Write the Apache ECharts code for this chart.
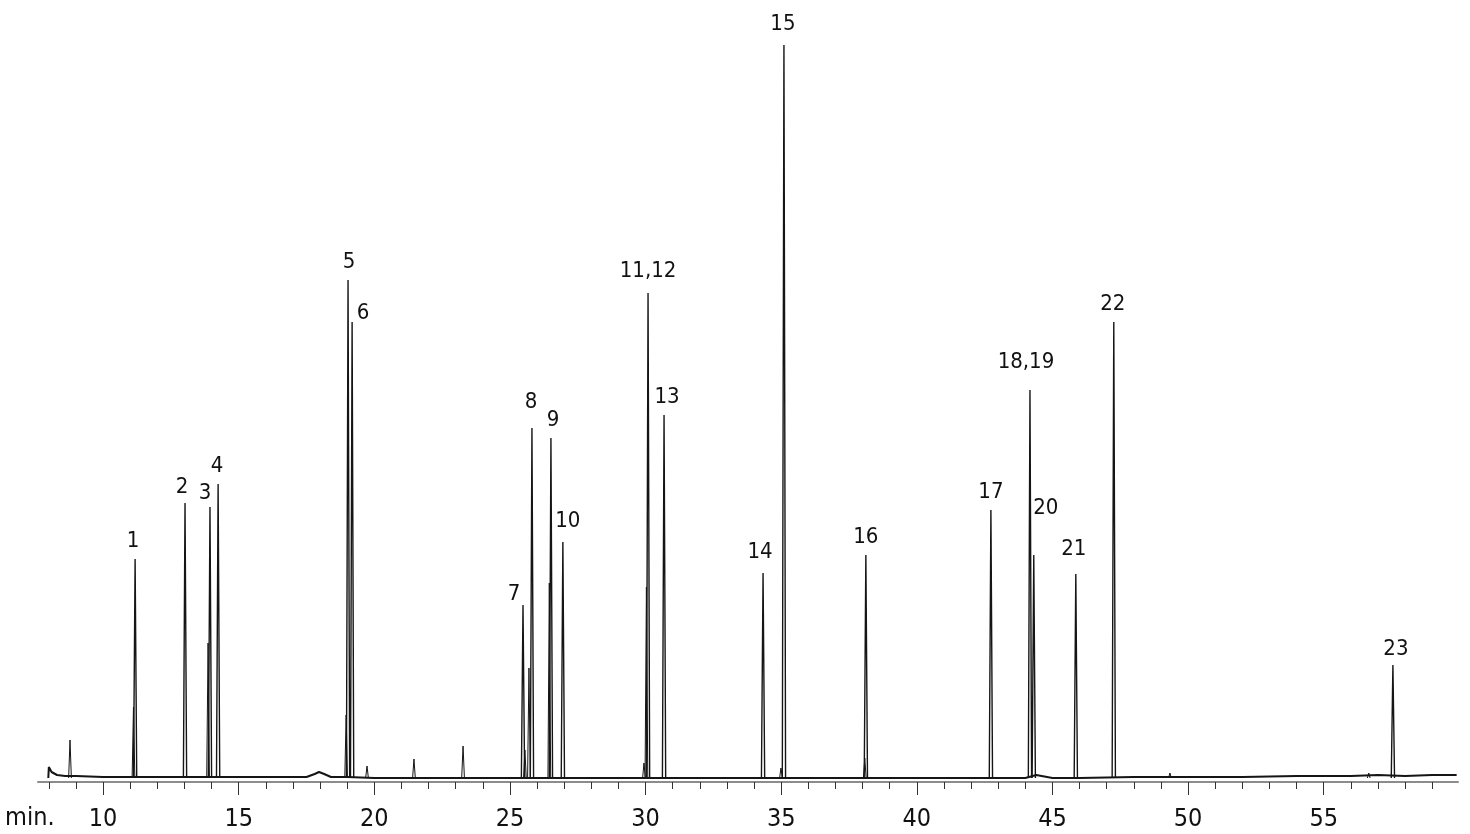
<!DOCTYPE html>
<html>
<head>
<meta charset="utf-8">
<script src="https://cdn.jsdelivr.net/npm/echarts@6/dist/echarts.min.js"></script>
<style>
html,body{margin:0;padding:0;background:#fff;}
#chart{width:1470px;height:834px;}
</style>
</head>
<body>
<div id="chart"></div>
<script>
// ---- data (retention time in min, detector response in arbitrary units) ----
const peakNames   = ['1','2','3','4','5','6','7','8','9','10','11,12','13','14','15','16','17','18,19','20','21','22','23'];
const peakTimes   = [11.18,13.02,13.94,14.24,19.03,19.18,25.48,25.81,26.51,26.95,30.09,30.68,34.33,35.10,38.12,42.73,44.17,44.31,45.86,47.26,57.55];
const peakHeights = [223,279,275,298,502,460,177,354,344,240,489,367,209,737,227,272,392,227,208,460,117];

const minorTimes   = [8.78,11.12,13.87,18.96,19.73,21.46,23.27,25.55,25.70,26.45,29.94,30.03,34.99,38.08,49.33,56.66];
const minorHeights = [42,75,139,67,16,23,36,32,114,199,19,195,14,24,9,9];

const baselineTimes  = [7.98,8.00,8.10,8.30,8.60,9.00,10,11,13,15,17,17.5,17.8,17.96,18.15,18.4,19,20,22,24,26,28,30,32,34,36,38,40,42,44,44.4,45,46,48,50,52,54,56,57,58,59,59.9];
const baselineValues = [4,15,10,7,6,6,5,5,5,5,5,5,8,10,8,5,5,4,4,4,4,4,4,4,4,4,4,4,4,4,7,4,4,5,5,5,6,6,7,6,7,7];

const majorTickValues = [10,15,20,25,30,35,40,45,50,55];
const minorTickValues = [8,9,10,11,12,13,14,15,16,17,18,19,20,21,22,23,24,25,26,27,28,29,30,31,32,33,34,35,36,37,38,39,40,41,42,43,44,45,46,47,48,49,50,51,52,53,54,55,56,57,58,59];
const axisTitle = 'min.';

// ---- styling / layout ----
const FOOT = 4;          // foot level of each peak polyline
const HALF_W = 0.06;     // half width of a peak, min
const labelOffsets = {
  '1':[-2,-18],'2':[-3,-16],'3':[-5,-14],'4':[-1,-18],'5':[1,-18],'6':[11,-9],
  '7':[-9,-11],'8':[-1,-26],'9':[2,-18],'10':[5,-21],'11,12':[0,-22],'13':[3,-18],
  '14':[-3,-21],'15':[-1,-21],'16':[0,-18],'17':[0,-18],'18,19':[-4,-28],'20':[12,-47],
  '21':[-2,-25],'22':[-1,-18],'23':[3,-16]
};
const FONT = '"DejaVu Sans Condensed","Liberation Sans Narrow",sans-serif';
const INK = '#151515';
const TEXT = '#111';

function peakPolyline(times, heights, hw) {
  const out = [];
  times.forEach((t, i) => {
    out.push([t - hw, FOOT], [t, heights[i]], [t + hw, FOOT], [null, null]);
  });
  return out;
}

const baselineData = baselineTimes.map((t, i) => [t, baselineValues[i]]);
const labelData = peakTimes.map((t, i) => ({
  value: [t, peakHeights[i]],
  label: { formatter: peakNames[i], offset: labelOffsets[peakNames[i]] || [0, -18] }
}));

const chart = echarts.init(document.getElementById('chart'), null, { renderer: 'canvas' });
chart.setOption({
  animation: false,
  backgroundColor: '#ffffff',
  grid: { left: 38, right: 12, top: 0, bottom: 52 },
  xAxis: [
    {
      type: 'value', min: 7.6, max: 59.95,
      axisLine: { show: true, lineStyle: { color: '#8c8c8c', width: 2 } },
      axisTick: { show: true, length: 7, customValues: minorTickValues, lineStyle: { color: '#333', width: 1 } },
      axisLabel: { show: true, customValues: majorTickValues, margin: 25, color: TEXT, fontSize: 25, fontFamily: FONT },
      splitLine: { show: false }
    },
    {
      type: 'value', min: 7.6, max: 59.95, position: 'bottom',
      axisLine: { show: false },
      axisTick: { show: true, length: 13, customValues: majorTickValues, lineStyle: { color: '#333', width: 1 } },
      axisLabel: { show: false },
      splitLine: { show: false }
    }
  ],
  yAxis: { type: 'value', min: 0, max: 782, show: false },
  graphic: [
    { type: 'text', left: 5, top: 806, style: { text: axisTitle, font: '25px ' + FONT, fill: TEXT } }
  ],
  series: [
    {
      type: 'line', data: baselineData, showSymbol: false, symbol: 'none',
      lineStyle: { color: INK, width: 2 }, z: 3
    },
    {
      type: 'line', data: peakPolyline(minorTimes, minorHeights, 0.05), showSymbol: false, symbol: 'none',
      connectNulls: false, lineStyle: { color: INK, width: 1 }, z: 3
    },
    {
      type: 'line', data: peakPolyline(peakTimes, peakHeights, HALF_W), showSymbol: false, symbol: 'none',
      connectNulls: false, lineStyle: { color: INK, width: 1.4 }, z: 4
    },
    {
      type: 'scatter', data: labelData, symbolSize: 0, silent: true, z: 5,
      itemStyle: { opacity: 1, color: TEXT },
      label: { show: true, position: 'inside', color: TEXT, fontSize: 22, fontFamily: FONT }
    }
  ]
});
</script>
</body>
</html>
